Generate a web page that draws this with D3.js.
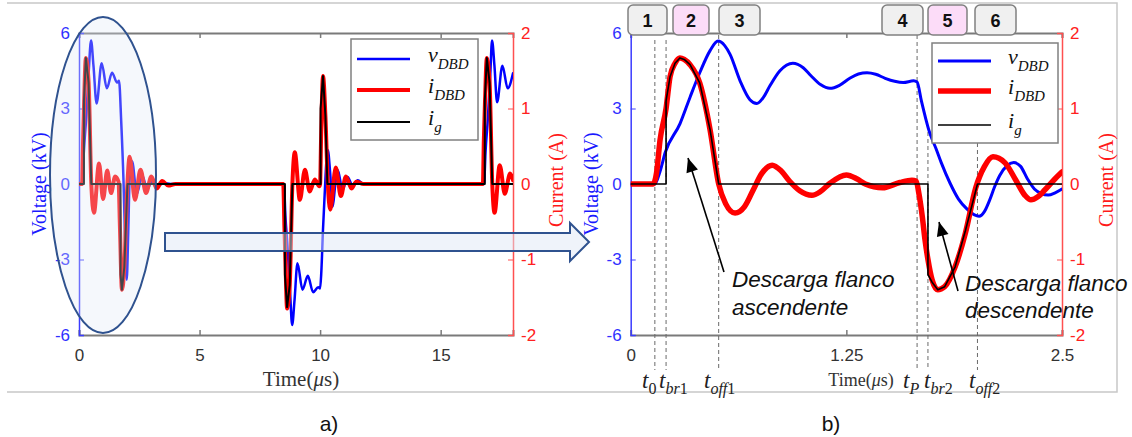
<!DOCTYPE html>
<html><head><meta charset="utf-8">
<script src="https://cdn.jsdelivr.net/npm/d3@7"></script>
<style>body{margin:0;background:#fff}</style>
</head><body>
<script>
// ---------------- DATA ----------------
// Panel a) full period (time in µs, voltage in kV, current in A)
const vA = [[0,0],[0.14,0],[0.2,1.25],[0.3,2.65],[0.4,4.4],[0.5,5.7],[0.6,4.7],[0.73,3.2],[0.94,4.8],[1.155,3.8],[1.37,4.42],[1.58,4.03],[1.66,4.1],[1.75,2.5],[1.85,0],[1.92,-2.5],[1.98,-3.8],[2.04,-2.0],[2.1,0.2],[2.2,0.9],[2.4,-0.4],[2.62,0.35],[2.83,-0.2],[3.05,0.15],[3.26,-0.08],[3.5,0.04],[3.8,0],[8.5,0],[8.56,-1.25],[8.66,-2.65],[8.76,-4.4],[8.84,-5.6],[8.94,-4.6],[9.06,-3.15],[9.27,-4.2],[9.49,-3.65],[9.71,-4.3],[9.92,-4.1],[10.0,-4.15],[10.05,-3.5],[10.12,-1.8],[10.2,-0.2],[10.26,0.9],[10.32,1.35],[10.42,0.4],[10.52,-0.9],[10.62,-0.1],[10.73,0.56],[10.93,-0.24],[11.14,0.28],[11.35,-0.08],[11.56,0.15],[11.8,0],[16.8,0],[16.86,1.25],[16.96,2.65],[17.06,4.4],[17.13,5.7],[17.23,4.7],[17.34,3.25],[17.56,4.7],[17.78,3.8],[18,4.4]];
const iA = [[0,0],[0.13,0],[0.17,0.58],[0.205,1.0],[0.285,1.67],[0.4,1.34],[0.51,0],[0.62,-0.38],[0.83,0.27],[1.0,-0.2],[1.17,0.18],[1.33,-0.12],[1.5,0.1],[1.64,0.03],[1.7,-0.6],[1.78,-1.4],[1.88,-1.1],[2.0,-0.05],[2.1,0.36],[2.32,-0.21],[2.55,0.19],[2.78,-0.12],[3.0,0.1],[3.22,-0.06],[3.45,0.04],[3.7,-0.02],[4.0,0],[8.47,0],[8.52,-0.58],[8.56,-1.0],[8.63,-1.65],[8.74,-1.34],[8.85,0],[8.95,0.42],[9.16,-0.21],[9.37,0.19],[9.57,-0.1],[9.78,0.06],[9.97,-0.03],[10.0,0],[10.04,0.6],[10.12,1.43],[10.22,0.9],[10.32,0],[10.42,-0.34],[10.65,0.22],[10.86,-0.16],[11.07,0.1],[11.3,-0.06],[11.5,0.03],[11.8,0],[16.75,0],[16.79,0.58],[16.83,1.0],[16.915,1.67],[17.03,1.34],[17.14,0],[17.235,-0.38],[17.45,0.25],[17.66,-0.13],[17.88,0.14],[18,0.05]];
const igA = [[0,0],[0.205,0],[0.205,1.1],[0.285,1.67],[0.4,1.34],[0.51,0],[1.723,0],[1.723,-1.2],[1.78,-1.4],[1.88,-1.1],[2.01,0],[8.54,0],[8.54,-1.2],[8.63,-1.63],[8.74,-1.34],[8.85,0],[10.02,0],[10.02,1.0],[10.12,1.43],[10.22,0.9],[10.3,0],[16.83,0],[16.83,1.1],[16.915,1.67],[17.03,1.34],[17.14,0],[18,0]];

// Panel b) zoom on one period
const vB = [[0,0],[0.14,0],[0.17,0.5],[0.2,1.25],[0.286,2.4],[0.344,3.45],[0.402,4.45],[0.46,5.3],[0.506,5.68],[0.545,5.5],[0.576,5.15],[0.634,4.1],[0.691,3.35],[0.731,3.2],[0.77,3.45],[0.807,3.9],[0.865,4.5],[0.94,4.8],[1.0,4.62],[1.045,4.3],[1.1,3.95],[1.155,3.8],[1.21,3.92],[1.27,4.2],[1.32,4.37],[1.37,4.42],[1.42,4.36],[1.475,4.2],[1.53,4.08],[1.58,4.03],[1.64,4.1],[1.66,4.05],[1.685,3.3],[1.71,2.6],[1.73,2.1],[1.77,1.4],[1.8,0.85],[1.85,0.05],[1.9,-0.6],[1.95,-1.0],[2.0,-1.25],[2.02,-1.28],[2.05,-1.1],[2.08,-0.65],[2.11,-0.1],[2.14,0.35],[2.18,0.72],[2.22,0.85],[2.26,0.7],[2.3,0.2],[2.34,-0.2],[2.38,-0.38],[2.42,-0.44],[2.46,-0.35],[2.5,-0.2]];
const iB = [[0,0],[0.13,0],[0.15,0.15],[0.17,0.58],[0.205,1.0],[0.228,1.42],[0.257,1.6],[0.285,1.67],[0.31,1.65],[0.344,1.58],[0.4,1.34],[0.46,0.72],[0.51,0],[0.55,-0.26],[0.605,-0.385],[0.66,-0.3],[0.71,-0.08],[0.76,0.14],[0.82,0.25],[0.87,0.18],[0.92,0.04],[0.98,-0.09],[1.05,-0.15],[1.1,-0.1],[1.155,0.01],[1.25,0.12],[1.31,0.07],[1.36,0.0],[1.46,-0.05],[1.56,0.02],[1.63,0.05],[1.655,0.04],[1.67,-0.12],[1.69,-0.43],[1.706,-0.74],[1.723,-1.0],[1.747,-1.27],[1.78,-1.4],[1.82,-1.36],[1.88,-1.1],[1.94,-0.65],[2.0,-0.05],[2.05,0.23],[2.1,0.36],[2.17,0.28],[2.23,0.06],[2.285,-0.15],[2.32,-0.21],[2.36,-0.17],[2.4,-0.08],[2.46,0.07],[2.5,0.16]];
const igB = [[0,0],[0.205,0],[0.205,1.1],[0.228,1.42],[0.257,1.6],[0.285,1.67],[0.31,1.65],[0.344,1.58],[0.4,1.34],[0.46,0.72],[0.51,0],[1.723,0],[1.723,-1.2],[1.747,-1.3],[1.78,-1.4],[1.82,-1.36],[1.88,-1.1],[1.94,-0.62],[2.01,0],[2.5,0]];

const voltTicks = [-6,-3,0,3,6];
const currTicks = [-2,-1,0,1,2];
const timeTicksA = [0,5,10,15];
const timeTicksB = [0,1.25,2.5];
const stageLabels = ["1","2","3","4","5","6"];
const stageHighlight = [false,true,false,false,true,false];
const markerTimes = [0.14,0.205,0.51,1.66,1.723,2.01];
const markerNames = [["","0"],["br","1"],["off","1"],["P",""],["br","2"],["off","2"]];
const legendNames = [["v","DBD"],["i","DBD"],["i","g"]];

// ---------------- DRAW ----------------
const W=1132,H=437;
const SANS="'Liberation Sans', Arial, sans-serif", SERIF="'Liberation Serif','Times New Roman',serif";
const svg=d3.select("body").append("svg").attr("width",W).attr("height",H);
const fmt=d=>String(d);

svg.append("path").attr("d","M7,3H1117V392H7").attr("stroke","#c8c8c8").attr("stroke-width",1.5).attr("fill","none");

function drawPanel(o){
  const g=svg.append("g");
  const x=d3.scaleLinear().domain(o.xDomain).range([o.x0,o.x1]);
  const yV=d3.scaleLinear().domain([-6,6]).range([335,33]);
  const yI=d3.scaleLinear().domain([-2,2]).range([335,33]);
  const gb=g.append("g").attr("transform","translate(0,335)")
    .call(d3.axisBottom(x).tickValues(o.xTicks).tickFormat(fmt).tickSize(-5).tickPadding(14));
  const gt=g.append("g").attr("transform","translate(0,33)")
    .call(d3.axisTop(x).tickValues(o.xTicks).tickFormat("").tickSize(-5));
  [gb,gt].forEach(a=>{a.select(".domain").attr("stroke","#7a7a7a").attr("stroke-width",2);
    a.selectAll(".tick line").attr("stroke","#7a7a7a").attr("stroke-width",1.5);
    a.selectAll("text").attr("font-family",SANS).attr("font-size",17).attr("fill","#333");});
  const gl=g.append("g").attr("transform",`translate(${o.x0},0)`)
    .call(d3.axisLeft(yV).tickValues(voltTicks).tickFormat(fmt).tickSize(-5).tickPadding(9));
  gl.select(".domain").attr("stroke","#3c3cff").attr("stroke-width",1.5);
  gl.selectAll(".tick line").attr("stroke","#3c3cff");
  gl.selectAll("text").attr("font-family",SANS).attr("font-size",17).attr("fill","#3030ff");
  const gr=g.append("g").attr("transform",`translate(${o.x1},0)`)
    .call(d3.axisRight(yI).tickValues(currTicks).tickFormat(fmt).tickSize(-5).tickPadding(8));
  gr.select(".domain").attr("stroke","#ff5050").attr("stroke-width",1.5);
  gr.selectAll(".tick line").attr("stroke","#ff5050");
  gr.selectAll("text").attr("font-family",SANS).attr("font-size",17).attr("fill","#ff2020");

  g.append("text").attr("transform",`translate(${o.vLabelX},184) rotate(-90)`).attr("text-anchor","middle")
    .attr("dy","0.35em").attr("font-family",SERIF).attr("font-size",20).attr("fill","#1a1aff").text("Voltage (kV)");
  g.append("text").attr("transform",`translate(${o.iLabelX},180) rotate(-90)`).attr("text-anchor","middle")
    .attr("dy","0.35em").attr("font-family",SERIF).attr("font-size",20).attr("fill","#ff1a1a").text("Current (A)");
  const tl=g.append("text").attr("x",o.tLabelX).attr("y",386).attr("font-family",SERIF).attr("font-size",o.tLabelSize)
    .attr("fill","#333").attr("text-anchor","middle");
  tl.append("tspan").text("Time(");
  tl.append("tspan").attr("font-style","italic").text("\u03bc");
  tl.append("tspan").text("s)");

  if(o.before) o.before(g,x);

  const lineV=d3.line().x(d=>x(d[0])).y(d=>yV(d[1])).curve(d3.curveMonotoneX);
  const lineI=d3.line().x(d=>x(d[0])).y(d=>yI(d[1])).curve(d3.curveMonotoneX);
  const lineG=d3.line().x(d=>x(d[0])).y(d=>yI(d[1]));
  const clipId="clip"+o.id;
  svg.append("clipPath").attr("id",clipId).append("rect").attr("x",o.x0).attr("y",28).attr("width",o.x1-o.x0).attr("height",312);
  const dg=g.append("g").attr("clip-path",`url(#${clipId})`).attr("fill","none").attr("stroke-linejoin","round").attr("stroke-linecap","round");
  dg.append("path").datum(o.v).attr("d",lineV).attr("stroke","#0000ff").attr("stroke-width",o.wV);
  dg.append("path").datum(o.i).attr("d",lineI).attr("stroke","#ff0000").attr("stroke-width",o.wI);
  dg.append("path").datum(o.ig).attr("d",lineG).attr("stroke","#000").attr("stroke-width",o.wG);

  const L=o.legend;
  const lg=g.append("g");
  lg.append("rect").attr("x",L.x).attr("y",L.y).attr("width",L.w).attr("height",L.h).attr("fill","#fff").attr("stroke","#808080").attr("stroke-width",1.5);
  const cols=["#0000ff","#ff0000","#000"], ws=[o.wV,o.wI,o.wG];
  legendNames.forEach((n,k)=>{
    const yy=L.rows[k];
    lg.append("line").attr("x1",L.x+6).attr("x2",L.x+59).attr("y1",yy).attr("y2",yy).attr("stroke",cols[k]).attr("stroke-width",ws[k]);
    const t=lg.append("text").attr("x",L.x+L.tx).attr("y",yy+3).attr("font-family",SERIF).attr("font-style","italic").attr("font-size",22).attr("fill","#111");
    t.append("tspan").text(n[0]);
    t.append("tspan").attr("font-size",15).attr("dy",7).text(n[1]);
  });
  if(o.after) o.after(g,x);
}

function arrowLine(g,x1,y1,x2,y2){
  g.append("line").attr("x1",x1).attr("y1",y1).attr("x2",x2).attr("y2",y2).attr("stroke","#000").attr("stroke-width",1.6);
  const a=Math.atan2(y2-y1,x2-x1), L=14, Wd=6;
  const bx=x2-L*Math.cos(a), by=y2-L*Math.sin(a);
  const px=-Math.sin(a)*Wd, py=Math.cos(a)*Wd;
  g.append("path").attr("d",`M${x2},${y2}L${bx+px},${by+py}L${bx-px},${by-py}Z`).attr("fill","#000");
}

drawPanel({id:"a",xDomain:[0,18],x0:79,x1:513,xTicks:timeTicksA,v:vA,i:iA,ig:igA,wV:2.5,wI:4,wG:2,
  vLabelX:39,iLabelX:556,tLabelX:301,tLabelSize:21,
  legend:{x:351,y:39,w:127,h:101,rows:[59,90,122],tx:77},
  after:(g)=>{
    g.append("ellipse").attr("cx",103).attr("cy",175).attr("rx",53).attr("ry",158)
      .attr("fill","#dfe7f5").attr("fill-opacity",0.3).attr("stroke","#2f528f").attr("stroke-width",2);
  }});

drawPanel({id:"b",xDomain:[0,2.5],x0:630.7,x1:1062,xTicks:timeTicksB,v:vB,i:iB,ig:igB,wV:3,wI:5.5,wG:1.6,
  vLabelX:591,iLabelX:1106,tLabelX:861,tLabelSize:18,
  legend:{x:932,y:43,w:126,h:100,rows:[61,91,125],tx:76},
  before:(g,x)=>{
    const starts=[40,40,35,35,132,143];
    markerTimes.forEach((t,k)=>{
      g.append("line").attr("x1",x(t)).attr("x2",x(t)).attr("y1",starts[k]).attr("y2",370)
        .attr("stroke","#6a6a6a").attr("stroke-width",1).attr("stroke-dasharray","4,3");
    });
  },
  after:(g,x)=>{
    const bxs=[628,673,719,882,928,975], bws=[39,36,41,41,39,41];
    stageLabels.forEach((s,k)=>{
      const bx=bxs[k], bw=bws[k];
      g.append("rect").attr("x",bx).attr("y",5).attr("width",bw).attr("height",30).attr("rx",5)
        .attr("fill",stageHighlight[k]?"#fcdcf8":"#f0f0f0").attr("stroke","#808080").attr("stroke-width",1.5);
      g.append("text").attr("x",bx+bw/2).attr("y",27).attr("text-anchor","middle").attr("font-family",SANS)
        .attr("font-weight","bold").attr("font-size",18).attr("fill","#111").text(s);
    });
    const lx=[642,659,704,903,924,969];
    markerNames.forEach((n,k)=>{
      const t=g.append("text").attr("x",lx[k]).attr("y",388).attr("font-family",SERIF).attr("font-size",23).attr("fill","#222");
      t.append("tspan").attr("font-style","italic").text("t");
      const s=t.append("tspan").attr("font-size",16).attr("dy",6);
      s.append("tspan").attr("font-style","italic").text(n[0]);
      if(n[1]) s.append("tspan").text(n[1]);
    });
    arrowLine(g,724,272,688,158);
    arrowLine(g,958,291,939,222);
    const ann=[[732,287,"Descarga flanco"],[732,315,"ascendente"],[965,291,"Descarga flanco"],[965,318,"descendente"]];
    ann.forEach(a=>g.append("text").attr("x",a[0]).attr("y",a[1]).attr("font-family",SANS).attr("font-style","italic")
      .attr("font-size",22.5).attr("fill","#111").text(a[2]));
  }});

svg.append("path").attr("d","M165,233L570,233L570,223L589,242L570,261L570,251L165,251Z")
  .attr("fill","#dfe7f5").attr("fill-opacity",0.5).attr("stroke","#2f528f").attr("stroke-width",2);

svg.append("text").attr("x",329).attr("y",431).attr("text-anchor","middle").attr("font-family",SANS).attr("font-size",21).attr("fill","#111").text("a)");
svg.append("text").attr("x",831).attr("y",431).attr("text-anchor","middle").attr("font-family",SANS).attr("font-size",21).attr("fill","#111").text("b)");
</script>
</body></html>
